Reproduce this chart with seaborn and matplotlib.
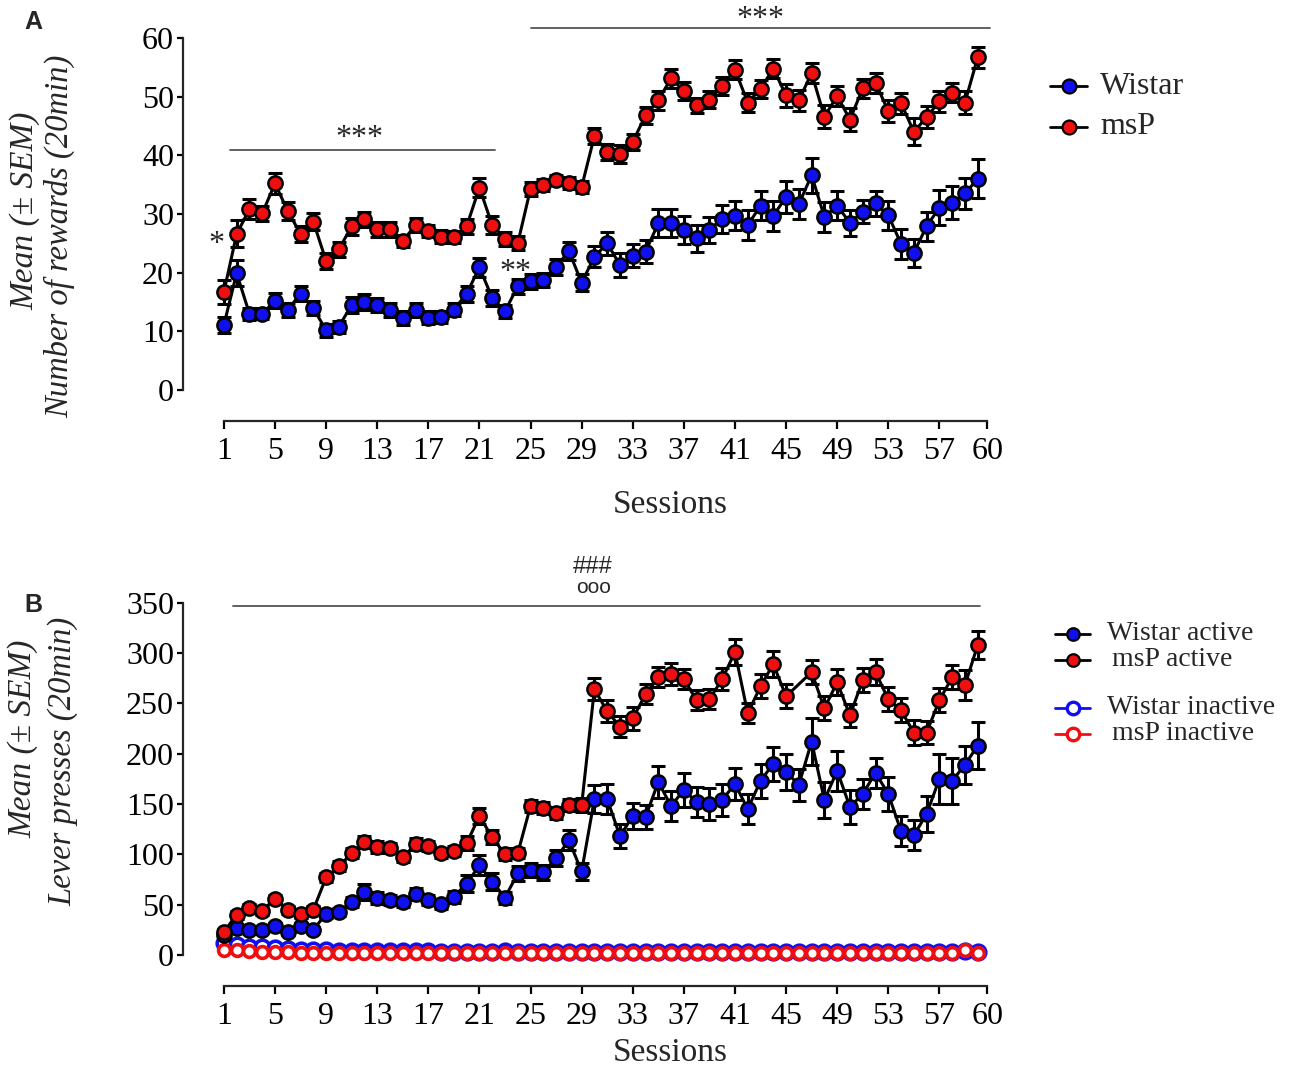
import matplotlib
matplotlib.use("Agg")
import numpy as np
import pandas as pd
import matplotlib.pyplot as plt
from matplotlib.lines import Line2D
import seaborn as sns

# ---- data -----------------------------------------------------------------
sessions = list(range(1, 61))

# Panel A: number of rewards (20 min), mean and SEM
wistar_rewards = [11.1, 19.9, 13.0, 13.0, 15.2, 13.7, 16.4, 13.9, 10.2, 10.8,
                  14.5, 15.0, 14.5, 13.7, 12.3, 13.7, 12.3, 12.4, 13.7, 16.4,
                  20.9, 15.7, 13.4, 17.7, 18.5, 18.8, 21.0, 23.7, 18.3, 22.7,
                  25.0, 21.3, 22.9, 23.6, 28.4, 28.4, 27.3, 25.9, 27.3, 29.2,
                  29.7, 28.1, 31.4, 29.7, 32.9, 31.7, 36.6, 29.5, 31.4, 28.5,
                  30.4, 31.8, 29.8, 24.9, 23.4, 27.9, 31.1, 31.9, 33.5, 36.0]
wistar_rewards_sem = [1.3, 2.2, 1.0, 0.9, 1.3, 1.2, 1.3, 1.2, 1.1, 1.0,
                      1.3, 1.4, 1.2, 1.2, 1.2, 1.2, 1.1, 1.0, 1.1, 1.4,
                      1.6, 1.4, 1.1, 1.3, 1.2, 1.2, 1.4, 1.6, 1.4, 1.8,
                      2.0, 2.0, 2.0, 2.0, 2.4, 2.4, 2.4, 2.3, 2.2, 2.4,
                      2.5, 2.5, 2.5, 2.6, 2.7, 2.5, 3.0, 2.6, 2.5, 2.2,
                      2.0, 2.2, 2.5, 2.6, 2.4, 2.5, 3.0, 2.8, 2.6, 3.3]
msp_rewards = [16.7, 26.6, 30.8, 30.1, 35.2, 30.5, 26.6, 28.7, 22.0, 24.0,
               27.9, 29.1, 27.4, 27.4, 25.4, 28.1, 27.1, 26.1, 26.1, 27.9,
               34.5, 28.1, 25.8, 25.0, 34.3, 35.0, 35.8, 35.3, 34.6, 43.3,
               40.6, 40.2, 42.3, 46.8, 49.4, 53.1, 51.0, 48.5, 49.5, 51.8,
               54.6, 49.0, 51.3, 54.8, 50.2, 49.4, 54.0, 46.6, 50.1, 46.1,
               51.4, 52.4, 47.5, 48.9, 44.0, 46.5, 49.2, 50.7, 49.0, 56.7]
msp_rewards_sem = [2.0, 2.3, 1.7, 1.3, 1.8, 1.5, 1.3, 1.4, 1.4, 1.3,
                   1.4, 1.3, 1.3, 1.3, 1.1, 1.2, 1.1, 1.1, 1.0, 1.3,
                   1.6, 1.5, 1.2, 1.2, 1.2, 1.0, 0.9, 1.0, 1.0, 1.3,
                   1.4, 1.5, 1.4, 1.5, 1.6, 1.7, 1.5, 1.3, 1.4, 1.6,
                   1.6, 1.6, 1.6, 1.6, 1.9, 1.8, 1.7, 2.0, 1.7, 2.0,
                   1.6, 1.7, 1.9, 1.8, 2.3, 1.9, 1.8, 1.6, 2.0, 1.8]

# Panel B: lever presses (20 min); msP active session 46 not shown in the figure
wistar_active = [20, 27, 25, 25, 29, 23, 29, 25, 41, 43,
                 53, 63, 57, 55, 53, 61, 55, 51, 58, 71,
                 89, 73, 57, 81, 84, 82, 96, 114, 83, 155,
                 155, 118, 138, 137, 172, 148, 164, 152, 150, 154,
                 170, 145, 173, 190, 182, 169, 212, 154, 183, 147,
                 160, 181, 160, 123, 119, 140, 175, 173, 189, 208]
wistar_active_sem = [3, 3, 3, 3, 3, 3, 3, 3, 4, 4,
                     5, 8, 6, 5, 5, 6, 5, 5, 6, 8,
                     10, 8, 6, 7, 7, 7, 8, 10, 8, 14,
                     15, 12, 13, 12, 16, 15, 17, 15, 16, 16,
                     16, 15, 17, 17, 18, 16, 23, 18, 20, 17,
                     15, 15, 17, 15, 15, 18, 25, 23, 19, 23]
msp_active = [23, 40, 47, 44, 56, 45, 41, 45, 77, 88,
              101, 112, 107, 106, 97, 110, 108, 101, 103, 111,
              138, 117, 100, 101, 148, 146, 141, 149, 149, 264,
              242, 227, 235, 259, 276, 279, 274, 253, 254, 274,
              301, 240, 267, 289, 257, np.nan, 281, 245, 271, 238,
              273, 281, 254, 243, 221, 221, 253, 276, 268, 308]
msp_active_sem = [3, 4, 4, 4, 4, 4, 4, 4, 4, 5,
                  5, 6, 6, 5, 5, 6, 5, 5, 5, 7,
                  8, 7, 6, 5, 6, 6, 6, 6, 7, 11,
                  11, 10, 11, 10, 10, 11, 10, 10, 10, 11,
                  13, 10, 12, 13, 12, np.nan, 12, 12, 13, 11,
                  12, 13, 12, 12, 12, 11, 12, 12, 15, 14]
wistar_inactive = [12, 10, 8, 8, 7, 6, 5, 5, 5, 4,
                   4, 4, 4, 4, 4, 4, 4, 3, 3, 3,
                   3, 3, 4, 3, 3, 3, 3, 3, 3, 3,
                   3, 3, 3, 3, 3, 3, 3, 3, 3, 3,
                   3, 3, 3, 3, 3, 3, 3, 3, 3, 3,
                   3, 3, 3, 3, 3, 3, 3, 3, 4, 3]
msp_inactive = [5, 5, 4, 3, 3, 3, 2, 2, 2, 2,
                2, 2, 2, 2, 2, 2, 2, 2, 2, 2,
                2, 2, 2, 2, 2, 2, 2, 2, 2, 2,
                2, 2, 2, 2, 2, 2, 2, 2, 2, 2,
                2, 2, 2, 2, 2, 2, 2, 2, 2, 2,
                2, 2, 2, 2, 2, 2, 2, 2, 5, 2]

x_ticks = [1, 5, 9, 13, 17, 21, 25, 29, 33, 37, 41, 45, 49, 53, 57, 60.75]
x_ticklabels = ["1", "5", "9", "13", "17", "21", "25", "29", "33", "37",
                "41", "45", "49", "53", "57", "60"]

BLUE = "#1010ee"
RED = "#ee1010"
W, H = 1300, 1069
SANS = ["Liberation Sans", "DejaVu Sans"]

sns.set_style("ticks")
plt.rcParams["font.family"] = ["Liberation Serif", "DejaVu Serif"]

fig = plt.figure(figsize=(13, 10.69), dpi=100)


def px_axes(left, top, right, bottom):
    return fig.add_axes([left / W, 1 - bottom / H, (right - left) / W, (bottom - top) / H])


def draw_active(ax, mean, sem, color, z):
    df = pd.DataFrame({"session": sessions, "value": mean, "sem": sem}).dropna()
    ax.errorbar(df["session"], df["value"], yerr=df["sem"], fmt="none", ecolor="black",
                elinewidth=2.2, capsize=5, capthick=2.2, zorder=z, clip_on=False)
    sns.lineplot(data=df, x="session", y="value", color="black", lw=2.2,
                 errorbar=None, ax=ax, zorder=z + 0.1, clip_on=False)
    sns.scatterplot(data=df, x="session", y="value", color=color, edgecolor="black",
                    linewidth=1.8, s=105, ax=ax, zorder=z + 0.2, clip_on=False)


def draw_inactive(ax, mean, color, size, z):
    df = pd.DataFrame({"session": sessions, "value": mean})
    sns.lineplot(data=df, x="session", y="value", color=color, lw=1.2, marker="o",
                 markersize=size, markerfacecolor="white", markeredgecolor=color,
                 markeredgewidth=2.6, errorbar=None, ax=ax, zorder=z, clip_on=False)


def style_axis(ax, ytop, ystep):
    sns.despine(ax=ax)
    ax.set_xlim(-2.2, 60.75)
    ax.set_ylim(0, ytop)
    ax.spines["left"].set_linewidth(1.6)
    ax.spines["bottom"].set_linewidth(1.6)
    ax.spines["bottom"].set_position(("outward", 22))
    ax.spines["bottom"].set_bounds(1, 60.75)
    ax.spines["left"].set_bounds(0, ytop)
    ax.set_xticks(x_ticks)
    ax.set_xticklabels(x_ticklabels)
    ax.set_yticks(np.arange(0, ytop + 1, ystep))
    ax.tick_params(direction="out", width=1.6, labelsize=23, colors="black")
    ax.tick_params(axis="x", length=6, pad=6)
    ax.tick_params(axis="y", length=4.5, pad=2)
    ax.set_xlabel("")
    ax.set_ylabel("")


# ---- panel A ----------------------------------------------------------------
axA = px_axes(183, 38, 987.3, 390)
draw_active(axA, wistar_rewards, wistar_rewards_sem, BLUE, 3)
draw_active(axA, msp_rewards, msp_rewards_sem, RED, 4)
style_axis(axA, 60, 10)

axA.plot([1.5, 22.2], [40.9, 40.9], color="#555555", lw=1.3, clip_on=False)
axA.text(11.6, 41.6, "***", ha="center", va="baseline", fontsize=23)
axA.plot([25.0, 61.0], [61.7, 61.7], color="#555555", lw=1.3, clip_on=False)
axA.text(43.0, 61.9, "***", ha="center", va="baseline", fontsize=23)
axA.text(0.45, 23.6, "*", ha="center", va="baseline", fontsize=23)
axA.text(23.8, 18.8, "**", ha="center", va="baseline", fontsize=23)

# ---- panel B ----------------------------------------------------------------
axB = px_axes(183, 602.7, 987.3, 955)
draw_inactive(axB, wistar_inactive, BLUE, 10.5, 2)
draw_inactive(axB, msp_inactive, RED, 8.5, 2.5)
draw_active(axB, wistar_active, wistar_active_sem, BLUE, 3)
draw_active(axB, msp_active, msp_active_sem, RED, 4)
style_axis(axB, 350, 50)

axB.plot([1.7, 60.2], [346.7, 346.7], color="#555555", lw=1.3, clip_on=False)
axB.text(29.9, 375, "###", ha="center", va="bottom", fontsize=17, family=SANS)
axB.text(29.9, 356, "ooo", ha="center", va="bottom", fontsize=15, family=SANS)

# ---- labels -----------------------------------------------------------------
for y_px, letter in [(22, "A"), (605, "B")]:
    fig.text(33 / W, 1 - y_px / H, letter, ha="center", va="center", fontsize=18,
             fontweight="bold", family=SANS)

for y_px in (505, 1053):
    fig.text(670 / W, 1 - y_px / H, "Sessions", ha="center", va="center", fontsize=24)

fig.text(25 / W, 1 - 211 / H, "Mean (± SEM)", rotation=90, style="italic",
         ha="center", va="center", fontsize=24)
fig.text(60 / W, 1 - 236 / H, "Number of rewards (20min)", rotation=90, style="italic",
         ha="center", va="center", fontsize=23.5)
fig.text(23 / W, 1 - 739 / H, "Mean (± SEM)", rotation=90, style="italic",
         ha="center", va="center", fontsize=24)
fig.text(63 / W, 1 - 761 / H, "Lever presses (20min)", rotation=90, style="italic",
         ha="center", va="center", fontsize=23.5)


# ---- legends ----------------------------------------------------------------
def legend_entry(x0, x1, y_px, text, text_x, size, face, edge, ew, ms):
    y = 1 - y_px / H
    xc = (x0 + x1) / 2
    fig.add_artist(Line2D([x0 / W, xc / W, x1 / W], [y, y, y], transform=fig.transFigure,
                          color="black" if face != "white" else edge, lw=2,
                          marker="o", markevery=[1], markersize=ms,
                          markerfacecolor=face, markeredgecolor=edge, markeredgewidth=ew))
    fig.text(text_x / W, y, text, ha="left", va="center", fontsize=size)


legend_entry(1050, 1087, 86, "Wistar", 1100, 23, BLUE, "black", 1.6, 10)
legend_entry(1050, 1087, 127, "msP", 1100, 23, RED, "black", 1.6, 10)
legend_entry(1055, 1090, 634, "Wistar active", 1107, 20, BLUE, "black", 1.6, 9)
legend_entry(1055, 1090, 660, "msP active", 1112, 20, RED, "black", 1.6, 9)
legend_entry(1055, 1090, 708, "Wistar inactive", 1107, 20, "white", BLUE, 2.4, 9)
legend_entry(1055, 1090, 734, "msP inactive", 1112, 20, "white", RED, 2.4, 9)

fig.savefig("out.png", dpi=100, facecolor="white")
